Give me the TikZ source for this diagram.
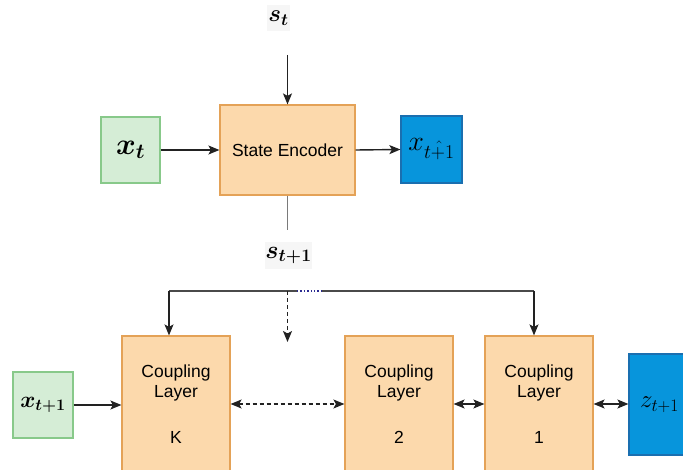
\documentclass[tikz,border=0pt]{standalone}
\usepackage{fix-cm}
\usepackage{amsmath}
\usepackage{fontspec}
\setmainfont{Liberation Sans}
\usetikzlibrary{arrows.meta}

\definecolor{encfill}{HTML}{FCD9AC}
\definecolor{encdraw}{HTML}{E4A257}
\definecolor{grnfill}{HTML}{D5EDD6}
\definecolor{grndraw}{HTML}{88C98A}
\definecolor{blufill}{HTML}{0795DC}
\definecolor{bludraw}{HTML}{1A6FB0}
\definecolor{wire}{HTML}{222222}
\definecolor{busline}{HTML}{4A4A4A}
\definecolor{stub}{HTML}{7A7A7A}
\definecolor{labbg}{HTML}{F6F6F6}

\newcommand{\txtsize}{\fontsize{17.5}{21}\selectfont}

\begin{document}
\begin{tikzpicture}[x=1pt,y=-1pt,
  box/.style={rectangle, line width=1.2pt, inner sep=0pt},
  encbox/.style={box, fill=encfill, draw=encdraw, font=\txtsize},
  grnbox/.style={box, fill=grnfill, draw=grndraw},
  blubox/.style={box, fill=blufill, draw=bludraw},
  coupbox/.style={encbox, minimum width=108pt, minimum height=154pt},
  lbltext/.style={inner sep=0pt, font=\txtsize},
  mathlbl/.style={rectangle, fill=labbg, inner sep=0pt},
  arr/.style={draw=wire, line width=1.4pt, -{Stealth[length=11pt,width=9pt,inset=2.5pt]}},
  darr/.style={draw=wire, line width=1.4pt, {Stealth[length=11pt,width=9pt,inset=2.5pt]}-{Stealth[length=11pt,width=9pt,inset=2.5pt]}},
  dashpat/.style={dash pattern=on 4pt off 3pt},
]
\path[use as bounding box, clip] (0,0) rectangle (683,470);

% --- upper part: state encoder ---
\node[encbox, minimum width=135pt, minimum height=90pt] (se) at (287.5,150) {State Encoder};
\node[grnbox, minimum width=59pt, minimum height=66pt] (xt) at (130.5,150)
  {\fontsize{30}{32}\selectfont$\boldsymbol{x_t}$};
\node[blubox, minimum width=61pt, minimum height=67pt] (xh) at (431.5,149.5)
  {\fontsize{28}{30}\selectfont$x_{\hat{t+1}}$};
\node[mathlbl, minimum width=23pt, minimum height=26pt] (st) at (278.5,18)
  {\fontsize{24}{26}\selectfont$\boldsymbol{s_t}$};
\node[mathlbl, minimum width=47pt, minimum height=27pt] (st1) at (288.5,255.5)
  {\fontsize{25}{27}\selectfont$\boldsymbol{s_{t+1}}$};

\coordinate (sttail) at (287.5,55);
\coordinate (sebot) at (287.5,230);
\draw[arr] (sttail) -- (se.north);
\draw[arr] (xt.east) -- (se.west);
\draw[arr] (se.east) -- (xh.west);
\draw[draw=stub, line width=1.4pt] (se.south) -- (sebot);

% --- lower part: coupling layers ---
\node[coupbox] (ck) at (176,413) {};
\node[coupbox] (c2) at (399,413) {};
\node[coupbox] (c1) at (539,413) {};
\foreach \b/\x/\n in {ck/176/K, c2/399/2, c1/539/1}{
  \node[lbltext] (\b-a) at (\x,373) {Coupling};
  \node[lbltext] (\b-b) at (\x,393) {Layer};
  \node[lbltext] (\b-c) at (\x,437) {\n};
}
\node[grnbox, minimum width=60pt, minimum height=66pt] (xl) at (43,405)
  {\fontsize{23}{25}\selectfont$\boldsymbol{x_{t+1}}$};
\node[blubox, minimum width=61pt, minimum height=101pt] (z) at (659.5,404.5)
  {\fontsize{25}{27}\selectfont$z_{t+1}$};

% conditioning bus from s_{t+1}
\coordinate (busL) at (169,291);
\coordinate (busM) at (287.5,291);
\coordinate (busD1) at (297,291);
\coordinate (busD2) at (322,291);
\coordinate (busR) at (534,291);
\coordinate (gapend) at (287.5,342);
\draw[draw=busline, line width=1.4pt] (busL) -- (busD1);
\draw[draw=busline!60!blue, line width=1.4pt, dotted] (busD1) -- (busD2);
\draw[draw=busline, line width=1.4pt] (busD2) -- (busR);
\draw[arr] (busL) -- (ck.north -| busL);
\draw[arr, dashpat] (busM) -- (gapend);
\draw[arr] (busR) -- (c1.north -| busR);

\draw[arr] (xl.east) -- (xl.east -| ck.west);
\draw[darr, dashpat] ([yshift=9pt]ck.east) -- ([yshift=9pt]c2.west);
\draw[darr] ([yshift=9pt]c2.east) -- ([yshift=9pt]c1.west);
\draw[darr] ([yshift=9pt]c1.east) -- ([yshift=9pt]c1.east -| z.west);
\end{tikzpicture}
\end{document}
